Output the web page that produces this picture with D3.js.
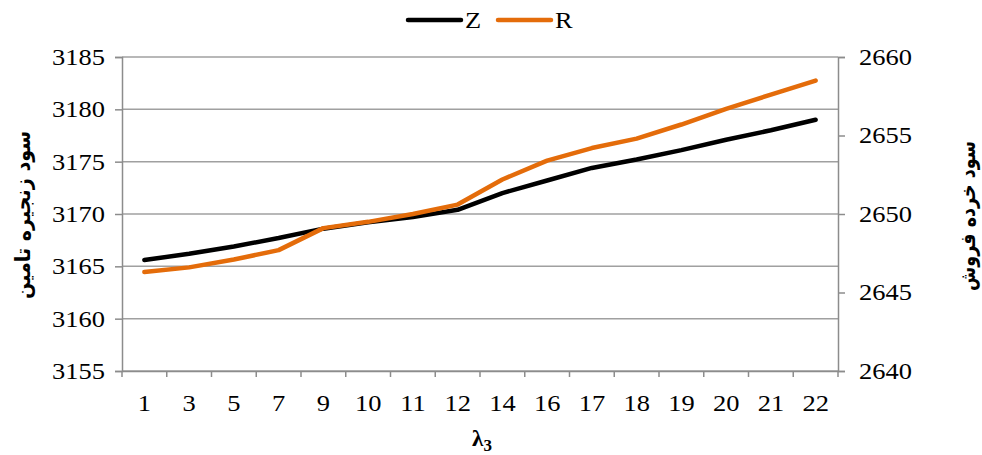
<!DOCTYPE html>
<html>
<head>
<meta charset="utf-8">
<script src="https://cdn.jsdelivr.net/npm/d3@7"></script>
<style>
  body { margin: 0; background: #fff; }
  svg { display: block; font-family: "Liberation Serif", "Times New Roman", serif; }
</style>
</head>
<body>
<svg id="chart" width="982" height="455"></svg>
<script>
// data
const categories = ["1","3","5","7","9","10","11","12","14","16","17","18","19","20","21","22"];
const zValues = [3165.6,3166.2,3166.9,3167.7,3168.6,3169.2,3169.7,3170.4,3172.0,3173.2,3174.4,3175.2,3176.1,3177.1,3178.0,3179.0];
const rValues = [2646.3,2646.6,2647.1,2647.7,2649.1,2649.5,2650.0,2650.6,2652.2,2653.4,2654.2,2654.8,2655.7,2656.7,2657.6,2658.5];
const leftTicks = [3155,3160,3165,3170,3175,3180,3185];
const rightTicks = [2640,2645,2650,2655,2660];
const seriesNames = ["Z","R"];
const seriesColors = {Z:"#000000", R:"#e46c0a"};

const svg = d3.select('#chart');
const margin = {top:57, right:144, bottom:84, left:122};
const W = 982, H = 455;
const innerW = W - margin.left - margin.right;
const innerH = H - margin.top - margin.bottom;
const g = svg.append('g').attr('transform',`translate(${margin.left},${margin.top})`);

const x = d3.scaleBand().domain(categories).range([0,innerW]);
const yL = d3.scaleLinear().domain([3155,3185]).range([innerH,0]);
const yR = d3.scaleLinear().domain([2640,2660]).range([innerH,0]);
const axisColor = '#8c8c8c';
const serif = '"Liberation Serif", "Times New Roman", serif';

// stretch serif text a bit wider, like the original rendering
function widen(sel, k){
    sel.each(function(){
        const w = this.getComputedTextLength();
        d3.select(this).attr('textLength',w*k).attr('lengthAdjust','spacingAndGlyphs');
    });
}

// gridlines
g.append('g')
    .selectAll('line')
    .data(leftTicks)
    .join('line')
    .attr('x1',0).attr('x2',innerW)
    .attr('y1',d=>yL(d)).attr('y2',d=>yL(d))
    .attr('stroke','#a0a0a0').attr('stroke-width',1.5);

// left axis
const gl = g.append('g').call(d3.axisLeft(yL).tickValues(leftTicks).tickFormat(d3.format('d')).tickSize(7).tickPadding(10));
// right axis
const gr = g.append('g').attr('transform',`translate(${innerW},0)`)
    .call(d3.axisRight(yR).tickValues(rightTicks).tickFormat(d3.format('d')).tickSize(7).tickPadding(14));
// bottom axis: ticks on category boundaries
const gb = g.append('g').attr('transform',`translate(0,${innerH})`)
    .call(d3.axisBottom(x).tickSize(0).tickPadding(24));
gb.append('g')
    .selectAll('line')
    .data(d3.range(categories.length+1))
    .join('line')
    .attr('x1',i=>i*x.step()).attr('x2',i=>i*x.step())
    .attr('y1',0).attr('y2',6)
    .attr('stroke',axisColor).attr('stroke-width',1.5);

[gl,gr,gb].forEach(a=>{
    a.attr('font-family',serif).attr('font-size',23);
    a.selectAll('path,line').attr('stroke',axisColor).attr('stroke-width',1.5);
    a.selectAll('text').attr('fill','#000')
        .style('font-family',serif).style('font-size','23px')
        .call(widen,1.15);
});

// lines
const lineL = d3.line().x((d,i)=>x(categories[i])+x.bandwidth()/2).y(d=>yL(d));
const lineR = d3.line().x((d,i)=>x(categories[i])+x.bandwidth()/2).y(d=>yR(d));
g.append('path').datum(zValues).attr('d',lineL)
    .attr('fill','none').attr('stroke',seriesColors.Z).attr('stroke-width',4.5)
    .attr('stroke-linecap','round').attr('stroke-linejoin','round');
g.append('path').datum(rValues).attr('d',lineR)
    .attr('fill','none').attr('stroke',seriesColors.R).attr('stroke-width',4.5)
    .attr('stroke-linecap','round').attr('stroke-linejoin','round');

// axis titles
svg.append('text')
    .attr('transform',`translate(30,215) rotate(-90)`)
    .attr('text-anchor','middle')
    .style('font-family','"DejaVu Sans", "Noto Sans", sans-serif')
    .style('font-weight','bold').style('font-size','21px')
    .attr('direction','rtl')
    .attr('textLength',168).attr('lengthAdjust','spacingAndGlyphs')
    .text('سود زنجیره تامین');
svg.append('text')
    .attr('transform',`translate(975,216) rotate(-90)`)
    .attr('text-anchor','middle')
    .style('font-family','"DejaVu Sans", "Noto Sans", sans-serif')
    .style('font-weight','bold').style('font-size','21px')
    .attr('direction','rtl')
    .attr('textLength',150).attr('lengthAdjust','spacingAndGlyphs')
    .text('سود خرده فروش');
const xt = svg.append('text')
    .attr('x',margin.left+innerW/2+2).attr('y',446)
    .attr('text-anchor','middle')
    .style('font-weight','bold').style('font-size','23px');
xt.append('tspan').text('λ');
xt.append('tspan').attr('dy',5).style('font-size','17px').text('3');

// legend
const legend = svg.append('g').attr('transform','translate(408,20)');
seriesNames.forEach((s,i)=>{
    const lg = legend.append('g').attr('transform',`translate(${i*90},0)`);
    lg.append('line').attr('x1',0).attr('x2',53).attr('y1',0).attr('y2',0)
        .attr('stroke',seriesColors[s]).attr('stroke-width',4.5).attr('stroke-linecap','round');
    lg.append('text').attr('x',57).attr('y',8)
        .style('font-size','24px').text(s).call(widen,1.1);
});
</script>
</body>
</html>
